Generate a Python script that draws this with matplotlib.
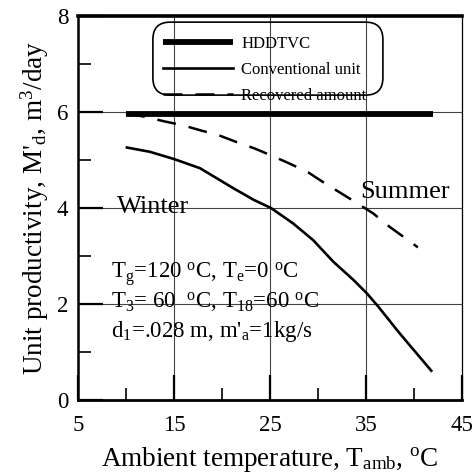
import matplotlib.pyplot as plt
import numpy as np
from matplotlib.patches import FancyBboxPatch
from matplotlib.ticker import MultipleLocator

plt.rcParams["font.family"] = ["Liberation Serif", "DejaVu Serif"]
plt.rcParams["mathtext.fontset"] = "custom"
plt.rcParams["mathtext.rm"] = "Liberation Serif"
plt.rcParams["mathtext.it"] = "Liberation Serif:italic"

# data
hdd_x = [10, 42]
hdd_y = [5.95, 5.95]
conv_x = [10.1, 12.5, 15, 17.7, 21.2, 23.3, 25.1, 27.4, 29.5, 31.6, 33.7, 35.1, 36.3, 38.5, 41.8]
conv_y = [5.26, 5.17, 5.02, 4.83, 4.41, 4.17, 4.0, 3.68, 3.33, 2.88, 2.5, 2.22, 1.94, 1.39, 0.61]
rec_x = [10, 12, 14.1, 15.8, 17.9, 19.6, 21.7, 23.4, 25.3, 27.1, 29.0, 30.6, 32.3, 34.0,
         35.8, 37.1, 38.9, 40.4]
rec_y = [5.97, 5.9, 5.8, 5.73, 5.61, 5.52, 5.36, 5.24, 5.08, 4.92, 4.74, 4.53, 4.32, 4.11,
         3.88, 3.66, 3.40, 3.18]

fig = plt.figure(figsize=(4.73, 4.75), dpi=100)
ax = fig.add_axes([78 / 473, 75 / 475, 384 / 473, 384 / 475])

ax.plot(hdd_x, hdd_y, color="black", lw=4.2, solid_capstyle="butt", label="HDDTVC", zorder=4)
ax.plot(conv_x, conv_y, color="black", lw=1.9, label="Conventional unit", zorder=3)
ax.plot(rec_x, rec_y, color="black", lw=1.8, ls=(0, (7.6, 5.2)), label="Recovered amount", zorder=3)

ax.set_xlim(5, 45)
ax.set_ylim(0, 8)
ax.set_xticks([5, 15, 25, 35, 45])
ax.xaxis.set_minor_locator(MultipleLocator(5))
ax.yaxis.set_major_locator(MultipleLocator(2))
ax.yaxis.set_minor_locator(MultipleLocator(1))
ax.tick_params(which="major", direction="in", length=18, width=1.6, labelsize=16.5,
               top=False, right=False, pad=7)
ax.tick_params(axis="x", which="major", pad=11)
ax.tick_params(which="minor", direction="in", length=9, width=1.2, top=False, right=False)
for x in [15, 25, 35]:
    ax.axvline(x, color="#444444", lw=0.8, zorder=1)
for y in [2, 4, 6]:
    ax.axhline(y, color="#444444", lw=0.8, zorder=1)

ax.spines["top"].set_linewidth(2.6)
ax.spines["bottom"].set_linewidth(2.0)
ax.spines["left"].set_linewidth(1.8)
ax.spines["right"].set_linewidth(0.9)

ax.set_xlabel(r"Ambient temperature, T$_{\mathrm{amb}}$, $^{\mathrm{o}}$C", fontsize=19.5, labelpad=6)
ax.set_ylabel(r"Unit productivity, M'$_{\mathrm{d}}$, m$^{3}$/day", fontsize=19.5, labelpad=4)

ax.text(9.1, 3.9, "Winter", fontsize=19)
ax.text(34.4, 4.2, "Summer", fontsize=19)
ax.text(8.4, 2.54, r"T$_{\mathrm{g}}$=120 $^{\mathrm{o}}$C, T$_{\mathrm{e}}$=0 $^{\mathrm{o}}$C", fontsize=16.5)
ax.text(8.4, 1.92, r"T$_{3}$= 60  $^{\mathrm{o}}$C, T$_{18}$=60 $^{\mathrm{o}}$C", fontsize=16.5)
ax.text(8.4, 1.31, r"d$_{1}$=.028 m, m'$_{\mathrm{a}}$=1kg/s", fontsize=16.5)

leg = ax.legend(loc="upper left", bbox_to_anchor=(0.221, 0.949), fontsize=12,
                handlelength=4.2, handletextpad=0.5, labelspacing=0.6,
                borderpad=0, borderaxespad=0, frameon=False)
# rounded legend box, its lower edge runs through the last entry as in the original
ax.add_patch(FancyBboxPatch((0.195, 0.794), 0.599, 0.19, transform=ax.transAxes,
                            boxstyle="round,pad=0,rounding_size=0.045",
                            facecolor="none", edgecolor="black", lw=1.2, zorder=5))

fig.savefig("out.png", dpi=100)
